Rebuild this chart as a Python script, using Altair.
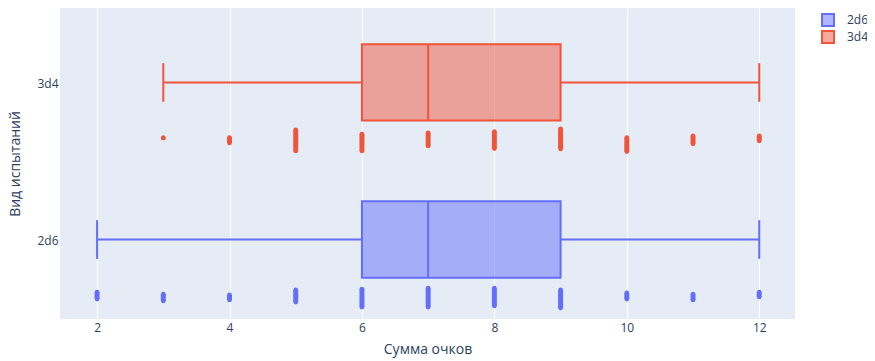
import altair as alt
import pandas as pd

# ---- data ----
trials = ["2d6", "3d4"]
trial_centers = [0.5, 1.5]
box_min = [2, 3]
box_q1 = [6, 6]
box_median = [7, 7]
box_q3 = [9, 9]
box_max = [12, 12]

# observed sums (jittered point stacks below each box); jitter extent per stack
pts_2d6_x = [2, 3, 4, 5, 6, 7, 8, 9, 10, 11, 12]
pts_2d6_jit_lo = [-0.373, -0.385, -0.379, -0.392, -0.424, -0.424, -0.417, -0.430, -0.373, -0.379, -0.360]
pts_2d6_jit_hi = [-0.328, -0.341, -0.347, -0.315, -0.309, -0.303, -0.303, -0.315, -0.334, -0.341, -0.328]

pts_3d4_x = [3, 4, 5, 6, 7, 8, 9, 10, 11, 12]
pts_3d4_jit_lo = [-0.347, -0.379, -0.430, -0.430, -0.398, -0.415, -0.417, -0.434, -0.385, -0.366]
pts_3d4_jit_hi = [-0.347, -0.345, -0.296, -0.322, -0.315, -0.307, -0.290, -0.345, -0.334, -0.334]

colors = ["#636EFA", "#EF553B"]
fills = ["rgba(99,110,250,0.5)", "rgba(239,85,59,0.5)"]

BOX_SHIFT = 0.006
BOX_HALF = 0.243
CAP_HALF = 0.123

box_df = pd.DataFrame({
    "trial": trials, "center": trial_centers, "min": box_min, "q1": box_q1,
    "median": box_median, "q3": box_q3, "max": box_max,
})
box_df["ymid"] = box_df["center"] + BOX_SHIFT
box_df["ylo"] = box_df["ymid"] - BOX_HALF
box_df["yhi"] = box_df["ymid"] + BOX_HALF
box_df["caplo"] = box_df["ymid"] - CAP_HALF
box_df["caphi"] = box_df["ymid"] + CAP_HALF

pts_df = pd.concat([
    pd.DataFrame({"trial": "2d6", "x": pts_2d6_x,
                  "lo": [0.5 + v for v in pts_2d6_jit_lo], "hi": [0.5 + v for v in pts_2d6_jit_hi]}),
    pd.DataFrame({"trial": "3d4", "x": pts_3d4_x,
                  "lo": [1.5 + v for v in pts_3d4_jit_lo], "hi": [1.5 + v for v in pts_3d4_jit_hi]}),
], ignore_index=True)

FONT = "Open Sans"
TXT = "#2a3f5f"

xscale = alt.Scale(domain=[1.44, 12.54], nice=False, zero=False)
yscale = alt.Scale(domain=[0, 1.98], nice=False, zero=False)
xaxis = alt.Axis(values=[2, 4, 6, 8, 10, 12], title="Сумма очков", grid=True, gridColor="white",
                 gridWidth=1, ticks=False, domain=False, labelFont=FONT, labelFontSize=12,
                 labelColor=TXT, labelPadding=3, titleFont=FONT, titleFontSize=14,
                 titleColor=TXT, titleFontWeight="normal", titlePadding=9)
yaxis = alt.Axis(values=[0.5, 1.5], labelExpr="datum.value < 1 ? '2d6' : '3d4'",
                 title="Вид испытаний", grid=False, ticks=False, domain=False,
                 labelFont=FONT, labelFontSize=12, labelColor=TXT, labelPadding=2,
                 titleFont=FONT, titleFontSize=14, titleColor=TXT, titleFontWeight="normal",
                 titlePadding=14)
cscale = alt.Scale(domain=trials, range=colors)
fscale = alt.Scale(domain=trials, range=fills)
legend = alt.Legend(title=None, orient="none", legendX=761, legendY=5, symbolType="square",
                    symbolSize=144, symbolStrokeWidth=2, labelFont=FONT, labelFontSize=12,
                    labelColor=TXT, labelOffset=12, rowPadding=-3, padding=0)

base = alt.Chart(box_df)

boxes = base.mark_bar(strokeWidth=2).encode(
    x=alt.X("q1:Q", scale=xscale, axis=xaxis),
    x2="q3:Q",
    y=alt.Y("ylo:Q", scale=yscale, axis=yaxis),
    y2="yhi:Q",
    fill=alt.Fill("trial:N", scale=fscale, legend=legend),
    stroke=alt.Stroke("trial:N", scale=cscale, legend=legend),
)

medians = base.mark_rule(strokeWidth=2).encode(
    x=alt.X("median:Q", scale=xscale, axis=xaxis),
    y=alt.Y("ylo:Q", scale=yscale, axis=yaxis),
    y2="yhi:Q",
    stroke=alt.Stroke("trial:N", scale=cscale, legend=None),
)

wlow = base.mark_rule(strokeWidth=2).encode(
    x=alt.X("min:Q", scale=xscale, axis=xaxis),
    x2="q1:Q",
    y=alt.Y("ymid:Q", scale=yscale, axis=yaxis),
    stroke=alt.Stroke("trial:N", scale=cscale, legend=None),
)
whigh = base.mark_rule(strokeWidth=2).encode(
    x=alt.X("q3:Q", scale=xscale, axis=xaxis),
    x2="max:Q",
    y=alt.Y("ymid:Q", scale=yscale, axis=yaxis),
    stroke=alt.Stroke("trial:N", scale=cscale, legend=None),
)
caplow = base.mark_rule(strokeWidth=2).encode(
    x=alt.X("min:Q", scale=xscale, axis=xaxis),
    y=alt.Y("caplo:Q", scale=yscale, axis=yaxis),
    y2="caphi:Q",
    stroke=alt.Stroke("trial:N", scale=cscale, legend=None),
)
caphigh = base.mark_rule(strokeWidth=2).encode(
    x=alt.X("max:Q", scale=xscale, axis=xaxis),
    y=alt.Y("caplo:Q", scale=yscale, axis=yaxis),
    y2="caphi:Q",
    stroke=alt.Stroke("trial:N", scale=cscale, legend=None),
)

pbase = alt.Chart(pts_df)
pstack = pbase.mark_rule(strokeWidth=5).encode(
    x=alt.X("x:Q", scale=xscale, axis=xaxis),
    y=alt.Y("lo:Q", scale=yscale, axis=yaxis),
    y2="hi:Q",
    stroke=alt.Stroke("trial:N", scale=cscale, legend=None),
)
pend_lo = pbase.mark_circle(size=22, opacity=1).encode(
    x=alt.X("x:Q", scale=xscale, axis=xaxis),
    y=alt.Y("lo:Q", scale=yscale, axis=yaxis),
    color=alt.Color("trial:N", scale=cscale, legend=None),
)
pend_hi = pbase.mark_circle(size=22, opacity=1).encode(
    x=alt.X("x:Q", scale=xscale, axis=xaxis),
    y=alt.Y("hi:Q", scale=yscale, axis=yaxis),
    color=alt.Color("trial:N", scale=cscale, legend=None),
)

chart = alt.layer(boxes, wlow, whigh, caplow, caphigh, medians, pstack, pend_lo, pend_hi).properties(
    width=735, height=311,
    padding={"left": 52, "top": 0, "right": 72, "bottom": 42},
    autosize=alt.AutoSizeParams(type="none"),
    background="white",
).configure_view(fill="#E5ECF6", stroke=None)

chart.save("out.html", embed_options={"renderer": "svg", "actions": False})
